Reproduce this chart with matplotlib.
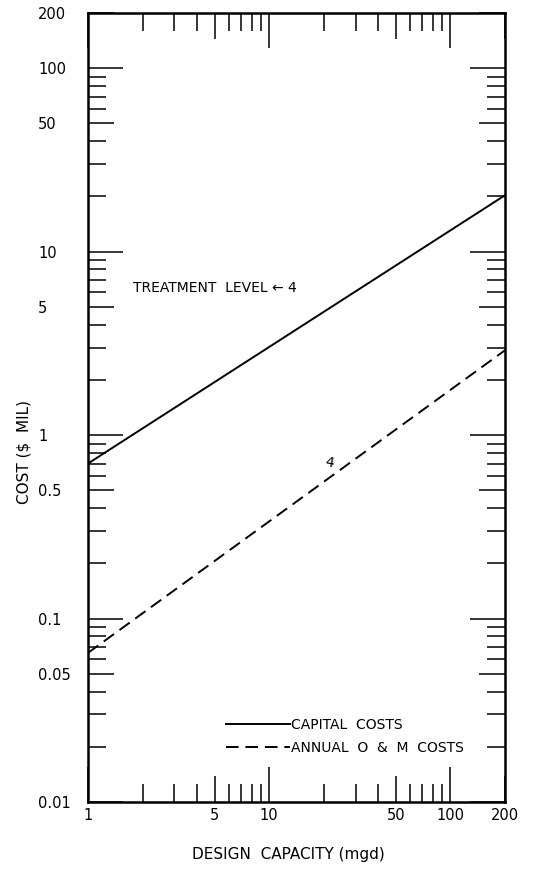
import math
import matplotlib
matplotlib.use("Agg")
import matplotlib.pyplot as plt
from matplotlib.ticker import FixedLocator, FixedFormatter, NullFormatter

# values (cost in $ million vs. design capacity in mgd)
capacity = [1, 200]
capital_costs = [0.70, 20.3]
om_costs = [0.065, 2.9]

x_ticks = [1, 5, 10, 50, 100, 200]
x_labels = ["1", "5", "10", "50", "100", "200"]
y_ticks = [0.01, 0.05, 0.1, 0.5, 1, 5, 10, 50, 100, 200]
y_labels = ["0.01", "0.05", "0.1", "0.5", "1", "5", "10", "50", "100", "200"]

plt.rcParams["font.family"] = "DejaVu Sans"

fig = plt.figure(figsize=(5.37, 8.74), dpi=100)
ax = fig.add_axes([88 / 537, 72 / 874, 417 / 537, 789 / 874])

ax.plot(capacity, capital_costs, color="black", lw=1.4, label="CAPITAL  COSTS")
ax.plot(capacity, om_costs, color="black", lw=1.4, ls=(0, (6.5, 3.5)),
        label="ANNUAL  O  &  M  COSTS")

ax.set_xscale("log")
ax.set_yscale("log")
ax.set_xlim(1, 200)
ax.set_ylim(0.01, 200)


def minor_positions(lo, hi, skip):
    out = []
    dec = lo
    while dec < hi:
        for m in range(2, 10):
            v = round(m * dec, 6)
            if v < hi and not any(abs(v - s) < 1e-9 for s in skip):
                out.append(v)
        dec *= 10
    return out


ax.xaxis.set_major_locator(FixedLocator(x_ticks))
ax.xaxis.set_major_formatter(FixedFormatter(x_labels))
ax.xaxis.set_minor_locator(FixedLocator(minor_positions(1, 200, x_ticks)))
ax.xaxis.set_minor_formatter(NullFormatter())
ax.yaxis.set_major_locator(FixedLocator(y_ticks))
ax.yaxis.set_major_formatter(FixedFormatter(y_labels))
ax.yaxis.set_minor_locator(FixedLocator(minor_positions(0.01, 200, y_ticks)))
ax.yaxis.set_minor_formatter(NullFormatter())

ax.tick_params(which="both", direction="in", top=True, right=True,
               width=1.1, color="black", labelsize=10.5)
ax.tick_params(which="minor", length=13)
ax.tick_params(axis="x", which="major", pad=4)
ax.tick_params(axis="y", which="major", pad=36)
for lab in ax.get_yticklabels():
    lab.set_horizontalalignment("left")


# longer ticks at decades, medium at the 5s
def tick_len(v):
    mant = v / 10 ** round(math.log10(v))
    return 25 if abs(mant - 1) < 1e-6 else 19


for t, v in zip(ax.xaxis.get_major_ticks(), x_ticks):
    t.tick1line.set_markersize(tick_len(v))
    t.tick2line.set_markersize(tick_len(v))
for t, v in zip(ax.yaxis.get_major_ticks(), y_ticks):
    t.tick1line.set_markersize(tick_len(v))
    t.tick2line.set_markersize(tick_len(v))

for s in ax.spines.values():
    s.set_linewidth(1.8)

ax.set_xlabel("DESIGN  CAPACITY (mgd)", fontsize=11)
ax.xaxis.set_label_coords(0.48, -0.057)
ax.set_ylabel("COST ($  MIL)", fontsize=11)
ax.yaxis.set_label_coords(-0.135, 0.444)

ax.text(1.77, 6.33, "TREATMENT  LEVEL \u2190 4", fontsize=10, va="center", ha="left")
ax.text(21.4, 0.71, "4", fontsize=10, va="center", ha="center", rotation=-10)

leg = ax.legend(loc="upper left", bbox_to_anchor=(0.331, 0.107), frameon=False,
                fontsize=10, handlelength=4.6, handletextpad=0.1,
                labelspacing=0.65, borderpad=0, borderaxespad=0)

fig.savefig("out.png", dpi=100)
